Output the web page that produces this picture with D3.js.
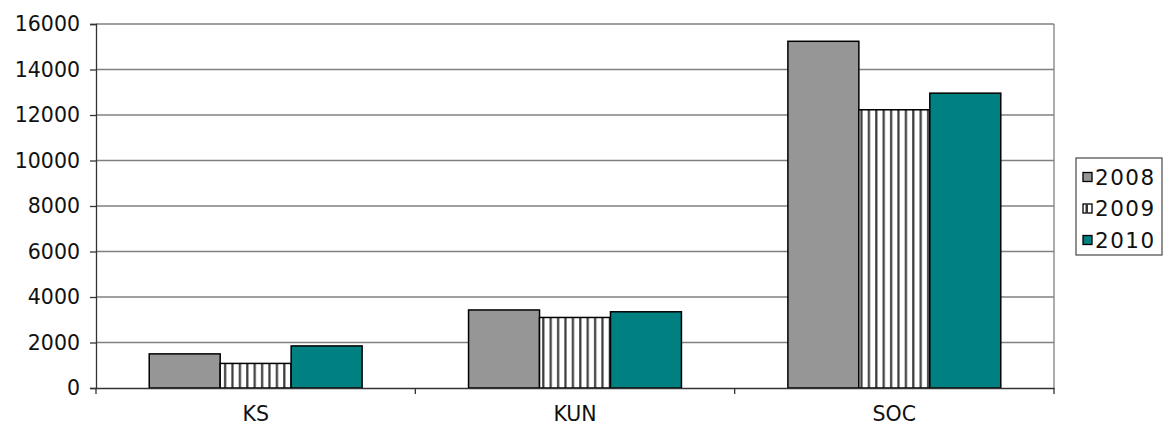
<!DOCTYPE html>
<html>
<head>
<meta charset="utf-8">
<script src="https://cdn.jsdelivr.net/npm/d3@7"></script>
<style>
  html, body { margin: 0; padding: 0; background: #fff; }
  svg { display: block; font-family: "DejaVu Sans", Verdana, sans-serif; }
</style>
</head>
<body>
<svg id="chart" width="1164" height="427"></svg>
<script>
// Categories and yearly series
const categories = ["KS", "KUN", "SOC"];
const years = ["2008", "2009", "2010"];
const values2008 = [1500, 3430, 15240];
const values2009 = [1080, 3100, 12230];
const values2010 = [1850, 3350, 12960];
const yTicks = [0, 2000, 4000, 6000, 8000, 10000, 12000, 14000, 16000];

const seriesValues = [values2008, values2009, values2010];

const svg = d3.select("#chart");
const margin = { left: 96, right: 1054, top: 24, bottom: 388 };

// Striped fill for the middle series
const defs = svg.append("defs");
const pat = defs.append("pattern")
  .attr("id", "stripes")
  .attr("patternUnits", "userSpaceOnUse")
  .attr("width", 7.4).attr("height", 10);
pat.append("rect").attr("width", 7.4).attr("height", 10).attr("fill", "#fff");
pat.append("rect").attr("x", 2).attr("width", 2.2).attr("height", 10).attr("fill", "#3a3a3a");

const fills = ["#969696", "url(#stripes)", "#008080"];

const x = d3.scaleBand().domain(categories).range([margin.left, margin.right]);
const y = d3.scaleLinear().domain([0, 16000]).range([margin.bottom, margin.top]);

// Gridlines
svg.append("g").selectAll("line").data(yTicks.filter(d => d > 0)).join("line")
  .attr("x1", margin.left).attr("x2", margin.right)
  .attr("y1", d => y(d)).attr("y2", d => y(d))
  .attr("stroke", "#808080").attr("stroke-width", 1.3);

// Right border
svg.append("line")
  .attr("x1", margin.right).attr("x2", margin.right)
  .attr("y1", margin.top).attr("y2", margin.bottom)
  .attr("stroke", "#808080").attr("stroke-width", 1.3);

// Bars
const groupWidth = x.bandwidth() / 1.5;
const inner = d3.scaleBand().domain(years).range([0, groupWidth]);

const rows = [];
categories.forEach((c, ci) => {
  years.forEach((yr, si) => rows.push({ c, yr, si, v: seriesValues[si][ci] }));
});

svg.append("g").selectAll("rect").data(rows).join("rect")
  .attr("x", d => x(d.c) + (x.bandwidth() - groupWidth) / 2 + inner(d.yr))
  .attr("y", d => y(d.v))
  .attr("width", inner.bandwidth())
  .attr("height", d => y(0) - y(d.v))
  .attr("fill", d => fills[d.si])
  .attr("stroke", "#000").attr("stroke-width", 1.5);

// Y axis
const yAxis = d3.axisLeft(y).tickValues(yTicks).tickSize(6).tickPadding(10).tickFormat(d3.format("d"));
const gy = svg.append("g").attr("transform", `translate(${margin.left},0)`).call(yAxis);
gy.select(".domain").attr("stroke", "#333").attr("stroke-width", 1.3);
gy.selectAll(".tick line").attr("stroke", "#333").attr("stroke-width", 1.3);
gy.selectAll("text").attr("font-size", 20.5).attr("fill", "#111").attr("font-family", "DejaVu Sans");

// X axis
const xAxis = d3.axisBottom(x).tickSize(0).tickPadding(18);
const gx = svg.append("g").attr("transform", `translate(0,${margin.bottom})`).call(xAxis);
gx.select(".domain").attr("stroke", "#333").attr("stroke-width", 1.5);
gx.selectAll("text").attr("font-size", 20.5).attr("fill", "#111").attr("font-family", "DejaVu Sans");
// Category separators
svg.append("g").selectAll("line").data(categories).join("line")
  .attr("x1", d => x(d) + x.bandwidth()).attr("x2", d => x(d) + x.bandwidth())
  .attr("y1", margin.bottom).attr("y2", margin.bottom + 6)
  .attr("stroke", "#333").attr("stroke-width", 1.3);
svg.append("line")
  .attr("x1", margin.left).attr("x2", margin.left)
  .attr("y1", margin.bottom).attr("y2", margin.bottom + 6)
  .attr("stroke", "#333").attr("stroke-width", 1.3);

// Legend
const lg = svg.append("g");
lg.append("rect").attr("x", 1076).attr("y", 158).attr("width", 86).attr("height", 97)
  .attr("fill", "#fff").attr("stroke", "#555").attr("stroke-width", 1.3);
const items = lg.selectAll("g.item").data(years).join("g")
  .attr("transform", (d, i) => `translate(1083,${177 + i * 31.5})`);
items.append("rect").attr("x", 0).attr("y", -4.5).attr("width", 9).attr("height", 9)
  .attr("fill", (d, i) => i === 1 ? "#fff" : fills[i]).attr("stroke", "#000").attr("stroke-width", 1.3);
items.filter((d, i) => i === 1).append("rect")
  .attr("x", 2.5).attr("y", -4.5).attr("width", 2.5).attr("height", 9).attr("fill", "#333");
items.append("text").attr("x", 12).attr("dy", "0.36em")
  .attr("font-size", 21.5).attr("letter-spacing", 1.5).attr("fill", "#111")
  .text(d => d);
</script>
</body>
</html>
